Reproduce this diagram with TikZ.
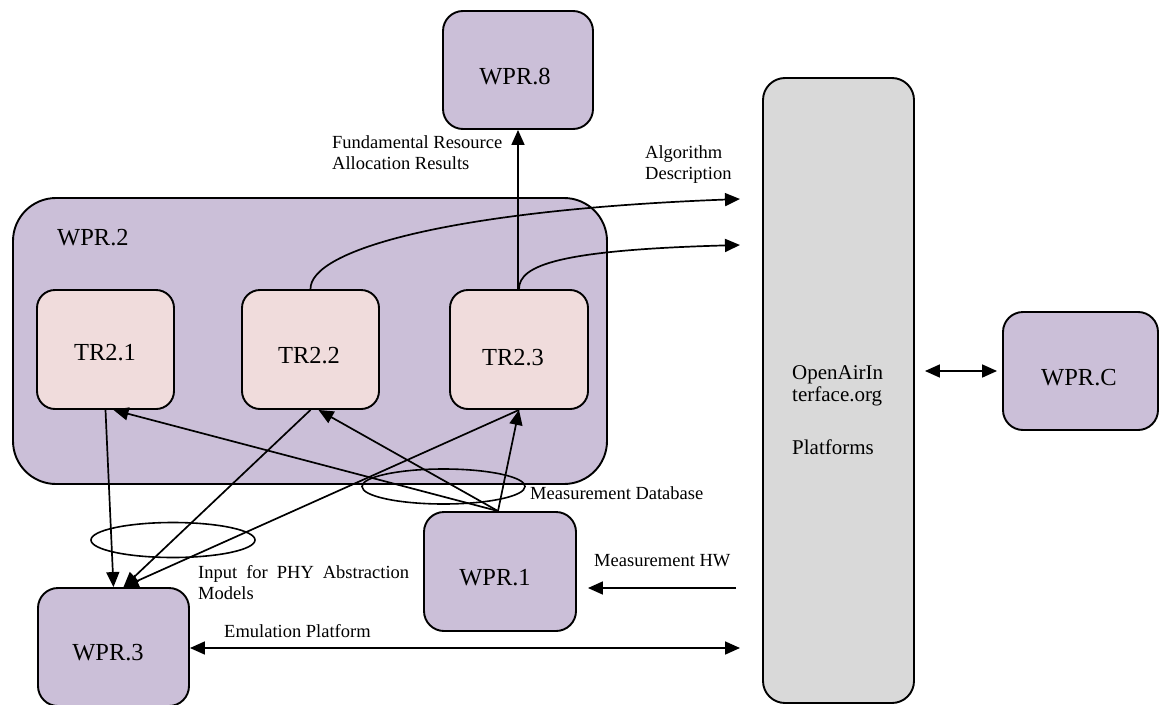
\documentclass[tikz,border=0pt]{standalone}
\usepackage{fontspec}
\setmainfont{Liberation Serif}
\usetikzlibrary{arrows.meta,shapes.geometric}
\definecolor{lilac}{HTML}{CBBFD8}
\definecolor{pinkfill}{HTML}{F0DCDC}
\definecolor{grayfill}{HTML}{D9D9D9}
\begin{document}
\begin{tikzpicture}[x=1pt,y=-1pt,
  box/.style={draw, line width=1.9pt, rounded corners=20pt, inner sep=0pt},
  wpbox/.style={box, fill=lilac, minimum width=151pt, minimum height=118pt},
  trbox/.style={box, fill=pinkfill, rounded corners=18pt, minimum width=137pt, minimum height=119pt},
  big/.style={font=\fontsize{24.5}{28}\selectfont, inner sep=0pt},
  oaitext/.style={font=\fontsize{21}{23}\selectfont, inner sep=0pt, anchor=base west},
  lab/.style={font=\fontsize{18.5}{21}\selectfont, inner sep=0pt, anchor=west, align=left},
  conn/.style={line width=1.7pt, -{Triangle[length=15pt,width=13pt]}},
  dconn/.style={line width=1.7pt, {Triangle[length=15pt,width=13pt]}-{Triangle[length=15pt,width=13pt]}},
  ring/.style={draw, ellipse, line width=1.6pt, inner sep=0pt}]
\useasboundingbox (0,0) rectangle (1159,704);

% big container
\node[box, fill=lilac, rounded corners=43pt, minimum width=594pt, minimum height=286pt] (w2) at (310,341) {};
\node[big, anchor=west] (w2t) at (57,238) {WPR.2};

% inner boxes
\node[trbox] (t1) at (105.5,349.5) {};
\node[trbox] (t2) at (310.5,349.5) {};
\node[trbox, minimum width=138pt] (t3) at (519,349.5) {};
\node[big] (t1t) at (105,353) {TR2.1};
\node[big] (t2t) at (309,356) {TR2.2};
\node[big] (t3t) at (513,358) {TR2.3};

% WP boxes
\node[wpbox, minimum width=150pt] (w8) at (518,70) {};
\node[big] (w8t) at (515,77) {WPR.8};
\node[wpbox, minimum width=152pt, minimum height=119pt] (w1) at (500,571.5) {};
\node[big] (w1t) at (495,578) {WPR.1};
\node[wpbox] (w3) at (113.5,647) {};
\node[big] (w3t) at (108,653) {WPR.3};
\node[wpbox, minimum width=155pt] (wc) at (1080.5,371) {};
\node[big] (wct) at (1079,378) {WPR.C};

% OpenAirInterface platform box
\node[box, fill=grayfill, rounded corners=22pt, minimum width=151pt, minimum height=625pt] (oai) at (838.5,390.5) {};
\node[oaitext] (oai1) at (792,379) {OpenAirIn};
\node[oaitext] (oai2) at (792,401) {terface.org};
\node[oaitext] (oai3) at (792,454) {Platforms};

% labels
\node[lab] (fra) at (332,152.5) {Fundamental Resource\\Allocation Results};
\node[lab] (alg) at (645,164.5) {Algorithm\\Description};
\node[lab] (mdb) at (530,493) {Measurement Database};
\node[lab] (mhw) at (594,561) {Measurement HW};
\node[lab] (emt) at (224,631) {Emulation Platform};
\node[lab] (phy) at (198,582.5) {\makebox[211pt][s]{Input for PHY Abstraction}\\Models};

% ellipses
\node[ring, minimum width=164pt, minimum height=35pt] (e1) at (173,540) {};
\node[ring, minimum width=163pt, minimum height=35pt] (e2) at (443.5,486.5) {};

% free ends
\coordinate (alg1) at (740,199);
\coordinate (alg2) at (740,245);
\coordinate (hw) at (736,588);
\coordinate (emu) at (740,648);

% connectors
\draw[conn] ([xshift=-2pt]w1.north) -- ([xshift=8pt]t1.south);
\draw[conn] ([xshift=-2pt]w1.north) -- ([xshift=8pt]t2.south);
\draw[conn] ([xshift=-2pt]w1.north) -- (t3.south);
\draw[conn] (t1.south) -- (w3.north);
\draw[conn] (t2.south) -- ([xshift=10pt]w3.north);
\draw[conn] (t3.south) -- ([xshift=10pt]w3.north);
\draw[conn] ([xshift=-1pt]t3.north) -- (w8.south);
\draw[conn] (t2.north) .. controls (310,250) and (450,210) .. (alg1);
\draw[conn] (t3.north) .. controls (519,265) and (560,250) .. (alg2);
\draw[conn, shorten >=11pt] (hw) -- (w1.east |- hw);
\draw[dconn] (w3.east |- emu) -- (emu);
\draw[dconn, shorten <=10pt, shorten >=5pt] (oai.east |- wc.west) -- (wc.west);
\end{tikzpicture}
\end{document}
